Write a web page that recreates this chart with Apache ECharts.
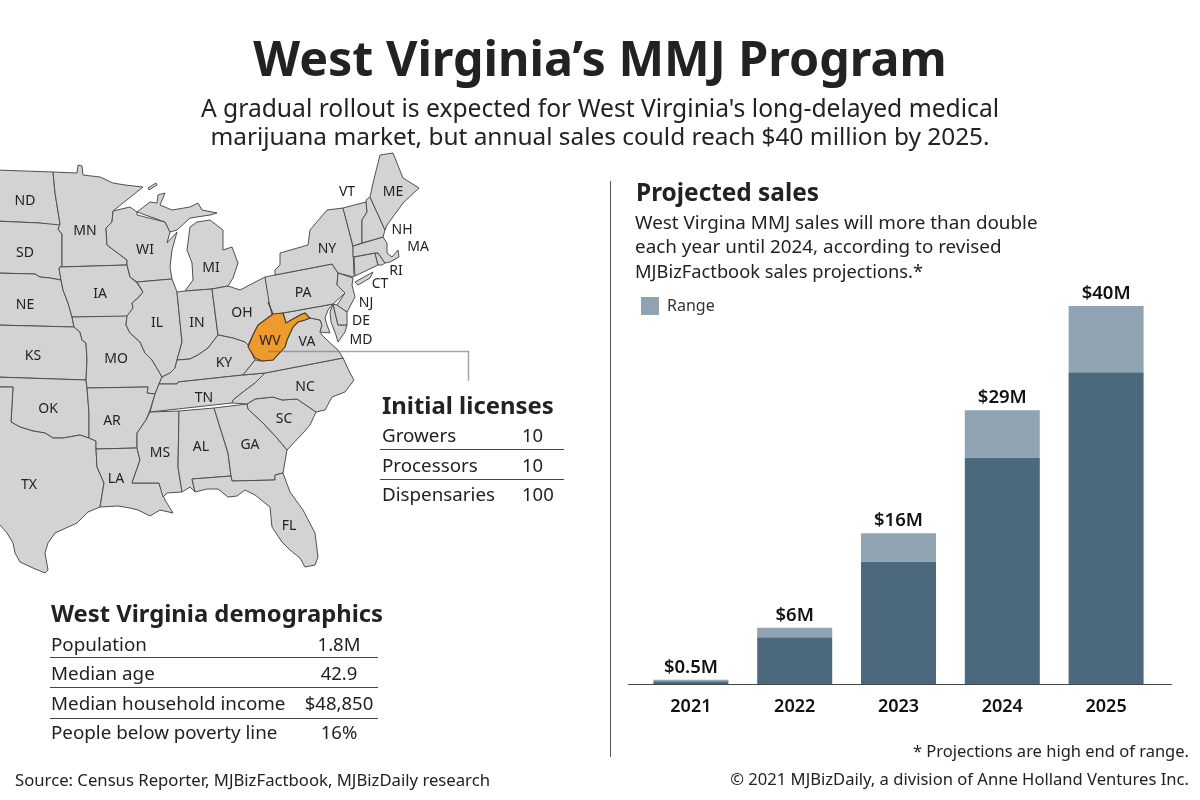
<!DOCTYPE html>
<html>
<head>
<meta charset="utf-8">
<title>West Virginia's MMJ Program</title>
<script src="https://cdn.jsdelivr.net/npm/echarts@6/dist/echarts.min.js"></script>
<style>
  html, body { margin: 0; padding: 0; background: #fff; }
  #chart { width: 1200px; height: 800px; }
</style>
</head>
<body>
<div id="chart"></div>
<script>
// Bar chart data ($ millions)
var years = ['2021', '2022', '2023', '2024', '2025'];
var lowEnd = [0.35, 5, 13, 24, 33];
var rangeOnTop = [0.15, 1, 3, 5, 7];
var highLabels = ['$0.5M', '$6M', '$16M', '$29M', '$40M'];

// Tables
var licenseRows = [['Growers', '10'], ['Processors', '10'], ['Dispensaries', '100']];
var demographicRows = [
  ['Population', '1.8M'],
  ['Median age', '42.9'],
  ['Median household income', '$48,850'],
  ['People below poverty line', '16%']
];

// Map: state outlines, in map units. Rings per state.
var stateCodes = ['ND','SD','NE','KS','OK','TX','MN','IA','MO','AR','LA','WI','IL','MI','IN','OH','KY','TN','MS','AL','GA','FL','SC','NC','VA','MD','DE','PA','NY','NJ','CT','RI','MA','VT','NH','ME','WV'];
var stateOutlines = [
  [[[-5,170],[53,172],[55,193],[60,224],[58,229],[40,223],[-5,221]]],
  [[[-5,221],[40,223],[60,225],[58,229],[62,234],[62,267],[59,268],[61,280],[50,278],[40,277],[35,274],[-5,273]]],
  [[[-5,273],[35,274],[40,277],[50,278],[61,280],[63,290],[68,303],[72,317],[74,327],[-5,325]]],
  [[[-5,325],[74,327],[80,332],[82,340],[86,343],[87,360],[86,380],[-5,377]]],
  [[[-5,377],[86,380],[87,388],[89,413],[89,438],[80,435],[63,438],[53,438],[45,433],[33,431],[20,427],[11,422],[13,387],[-5,387]]],
  [[[-5,387],[13,387],[11,422],[20,427],[33,431],[45,433],[53,438],[63,438],[80,435],[89,438],[96,441],[96,449],[97,467],[104,483],[100,507],[88,512],[77,523],[55,533],[48,543],[45,553],[48,570],[45,573],[33,568],[20,562],[15,553],[13,543],[7,533],[0,525],[-5,520]]],
  [[[53,172],[77,173],[78,165],[82,166],[83,175],[100,177],[113,183],[125,185],[143,187],[133,195],[123,203],[113,211],[112,222],[106,228],[107,245],[115,251],[127,260],[127,265],[60,267],[62,267],[62,234],[58,229],[60,224],[55,193]]],
  [[[60,267],[127,265],[130,277],[137,283],[143,292],[138,298],[132,303],[133,308],[127,317],[72,317],[68,303],[63,290],[61,280],[59,268]]],
  [[[72,317],[127,316],[126,325],[130,333],[140,342],[145,353],[152,360],[158,370],[162,377],[159,384],[155,394],[147,393],[148,387],[87,388],[86,380],[87,360],[86,343],[82,340],[80,332],[74,327]]],
  [[[87,388],[148,387],[147,393],[155,394],[150,410],[146,420],[137,433],[137,448],[96,449],[96,441],[89,438],[89,413]]],
  [[[96,449],[137,448],[140,460],[132,483],[159,483],[163,495],[165,500],[173,513],[160,510],[150,516],[138,510],[130,508],[118,506],[100,507],[104,483],[97,467]]],
  [[[113,211],[130,207],[137,212],[137,215],[165,222],[170,232],[167,243],[177,232],[172,250],[170,267],[172,279],[137,282],[130,277],[127,265],[127,260],[115,251],[107,245],[106,228],[112,222]]],
  [[[137,282],[172,279],[177,292],[182,342],[177,360],[175,368],[170,373],[162,377],[158,370],[152,360],[145,353],[140,342],[130,333],[126,325],[127,316],[133,308],[132,303],[138,298],[143,292]]],
  [[[185,291],[193,280],[192,263],[187,250],[190,227],[197,222],[210,220],[223,230],[223,250],[232,247],[238,263],[233,278],[228,286],[212,289]],
   [[137,212],[150,202],[157,203],[158,195],[165,193],[160,205],[172,210],[190,207],[198,203],[202,210],[217,213],[210,215],[190,218],[177,230],[170,232],[165,222]],
   [[148,188],[156,183],[157,185],[149,190]]],
  [[[177,292],[185,291],[212,289],[218,335],[208,348],[198,355],[190,359],[177,360],[182,342]]],
  [[[212,289],[228,286],[240,290],[265,277],[270,302],[273,314],[258,325],[253,335],[248,345],[245,342],[233,338],[218,335]]],
  [[[159,384],[177,384],[178,382],[243,375],[255,360],[248,345],[245,342],[233,338],[218,335],[208,348],[198,355],[190,359],[177,360],[175,368],[170,373],[162,377]]],
  [[[150,412],[232,403],[233,400],[243,392],[255,383],[265,373],[243,375],[178,382],[177,384],[159,384],[155,394]]],
  [[[150,412],[179,411],[178,467],[182,492],[167,493],[163,497],[159,483],[132,483],[140,460],[137,448],[137,433],[146,420]]],
  [[[179,411],[214,408],[228,453],[231,476],[192,479],[195,492],[190,487],[182,492],[178,467]]],
  [[[214,408],[247,404],[248,409],[263,423],[277,438],[287,450],[283,473],[275,475],[275,480],[232,481],[231,476],[228,453]]],
  [[[192,479],[231,476],[232,481],[275,480],[275,475],[283,473],[290,492],[303,510],[315,533],[318,557],[315,565],[305,567],[300,558],[290,550],[282,542],[272,527],[270,507],[255,495],[245,490],[237,496],[228,497],[218,489],[207,489],[195,492]]],
  [[[247,404],[255,399],[273,397],[282,400],[297,399],[316,412],[310,425],[303,433],[287,450],[277,438],[263,423],[248,409]]],
  [[[265,373],[343,358],[350,373],[354,380],[345,392],[332,397],[325,410],[316,412],[297,399],[282,400],[273,397],[255,399],[247,404],[232,403],[233,400],[243,392],[255,383]]],
  [[[243,375],[265,373],[343,358],[338,350],[330,343],[322,335],[320,332],[322,325],[320,320],[310,318],[305,320],[298,322],[293,327],[287,340],[285,347],[273,360],[262,361],[255,360]]],
  [[[272,315],[333,304],[328,310],[325,318],[327,325],[330,333],[320,332],[322,325],[320,320],[310,318],[305,313],[300,315],[286,323],[283,313],[273,314]],
   [[333,304],[338,325],[347,325],[345,332],[338,342],[336,335],[331,322],[330,312]]],
  [[[333,304],[337,305],[347,312],[347,325],[338,325]]],
  [[[265,277],[275,275],[332,264],[338,273],[337,285],[345,293],[333,304],[272,315],[269,302]]],
  [[[275,275],[275,270],[280,265],[280,253],[308,245],[310,230],[327,210],[343,208],[348,227],[353,247],[354,277],[338,273],[332,264]],
   [[355,282],[373,272],[370,278],[358,285]]],
  [[[338,273],[353,278],[352,285],[355,297],[347,312],[337,305],[345,293],[337,285]]],
  [[[354,257],[375,253],[378,265],[355,276]]],
  [[[375,253],[378,253],[385,263],[382,265],[378,265]]],
  [[[353,246],[383,237],[387,243],[387,253],[392,257],[398,250],[399,257],[390,262],[385,263],[378,253],[375,253],[353,257]]],
  [[[343,208],[366,202],[367,212],[362,220],[362,243],[353,246],[348,227]]],
  [[[366,200],[370,197],[385,230],[383,237],[362,243],[362,220],[367,212]]],
  [[[370,197],[373,183],[380,155],[393,153],[403,178],[419,188],[403,203],[398,210],[387,225],[385,230]]],
  [[[268,302],[273,314],[283,313],[286,323],[300,315],[305,313],[310,318],[305,320],[298,322],[293,327],[287,340],[285,347],[273,360],[262,361],[255,358],[248,347],[253,335],[258,325],[273,314]]]
];
var stateLabelPoints = [[25,200],[25,252],[25,304],[33,355],[48,408],[29,484],[85,230],[100,293],[116,358],[112,420],[116,478],[145,249],[157,322],[211,267],[197,322],[242,312],[224,362],[204,397],[160,452],[201,446],[250,444],[289,525],[284,418],[305,386],[307,341],[361,339],[361,320],[303,292],[327,248],[366,302],[380,283],[396,270],[418,246],[347,191],[402,229],[393,191],[270,340]];

var INK = '#222222';
var BODY = '"Noto Sans", sans-serif';

var features = stateCodes.map(function(code, i) {
  return {
    type: 'Feature',
    properties: { name: code, cp: stateLabelPoints[i] },
    geometry: { type: 'MultiPolygon', coordinates: stateOutlines[i].map(function(ring) { return [ring]; }) }
  };
});
echarts.registerMap('eastUS', { type: 'FeatureCollection', features: features });

function text(x, y, str, size, opts) {
  opts = opts || {};
  return {
    type: 'text', x: x, y: y, silent: true, z: 10,
    style: {
      text: str,
      font: (opts.weight || 'normal') + ' ' + size + 'px ' + (opts.family || BODY),
      fill: opts.color || INK,
      align: opts.align || 'left',
      verticalAlign: 'middle'
    }
  };
}
function rule(x1, y1, x2, y2, color, width) {
  return {
    type: 'line', silent: true, z: 9,
    shape: { x1: x1, y1: y1, x2: x2, y2: y2 },
    style: { stroke: color, lineWidth: width || 1 }
  };
}

var graphics = [
  text(600, 62, 'West Virginia\u2019s MMJ Program', 48.4, { weight: 'bold', align: 'center' }),
  text(600, 110, "A gradual rollout is expected for West Virginia's long-delayed medical", 24.65, { align: 'center' }),
  text(600, 138, 'marijuana market, but annual sales could reach $40 million by 2025.', 24.4, { align: 'center' }),
  rule(610.5, 181, 610.5, 757, '#555555', 1),
  text(636, 194, 'Projected sales', 24.4, { weight: 'bold' }),
  text(635, 224, 'West Virgina MMJ sales will more than double', 18.85),
  text(635, 248, 'each year until 2024, according to revised', 18.85),
  text(635, 273, 'MJBizFactbook sales projections.*', 18.3),
  rule(628, 684.5, 1172, 684.5, '#444444', 1),
  text(1189, 752, '* Projections are high end of range.', 16.5, { align: 'right' }),
  text(1189, 780, '\u00a9 2021 MJBizDaily, a division of Anne Holland Ventures Inc.', 16.6, { align: 'right' }),
  text(15, 781, 'Source: Census Reporter, MJBizFactbook, MJBizDaily research', 16.7),
  // leader from WV to the licenses table
  rule(268, 351.5, 468.5, 351.5, 'rgba(120,120,120,0.65)', 1.5),
  rule(468.5, 351, 468.5, 381, 'rgba(120,120,120,0.65)', 1.5),
  text(382, 407, 'Initial licenses', 23.9, { weight: 'bold' }),
  text(51, 615, 'West Virginia demographics', 23.8, { weight: 'bold' })
];

var licenseY = [437, 467, 496];
licenseRows.forEach(function(row, i) {
  graphics.push(text(382, licenseY[i], row[0], 18.8));
  graphics.push(text(522, licenseY[i], row[1], 18.5));
});
[449.5, 479.5].forEach(function(y) { graphics.push(rule(380, y, 564, y, '#444444', 1)); });

var demographicY = [646, 675, 705, 734];
demographicRows.forEach(function(row, i) {
  graphics.push(text(51, demographicY[i], row[0], 18.8));
  graphics.push(text(339, demographicY[i], row[1], 18.5, { align: 'center' }));
});
[657.5, 687.5, 718.5].forEach(function(y) { graphics.push(rule(50, y, 378, y, '#444444', 1)); });

var chart = echarts.init(document.getElementById('chart'));
chart.setOption({
  backgroundColor: '#ffffff',
  animation: false,
  textStyle: { fontFamily: BODY },
  geo: {
    map: 'eastUS',
    projection: { project: function(p) { return p; }, unproject: function(p) { return p; } },
    boundingCoords: [[-5, 150], [425, 580]],
    left: -5, top: 150, width: 430, height: 430,
    silent: true,
    roam: false,
    z: 1,
    label: { show: true, fontSize: 14, color: INK, fontFamily: BODY, offset: [0, 1] },
    itemStyle: { areaColor: '#d3d3d3', borderColor: '#505050', borderWidth: 1 },
    regions: [{ name: 'WV', itemStyle: { areaColor: '#ee9a2c', borderColor: '#4a3a20', borderWidth: 1.1 } }]
  },
  legend: {
    data: ['Range'],
    left: 636, top: 292,
    itemWidth: 18, itemHeight: 18,
    icon: 'rect',
    selectedMode: false,
    textStyle: { fontSize: 16, color: '#333333', fontFamily: BODY, padding: [0, 0, 0, 3] }
  },
  grid: { left: 639, width: 519, top: 150, height: 534.5 },
  xAxis: {
    type: 'category',
    data: years,
    axisLine: { show: false },
    axisTick: { show: false },
    axisLabel: { color: '#111111', fontSize: 18, fontWeight: 600, margin: 13, fontFamily: BODY }
  },
  yAxis: { type: 'value', min: 0, max: 56.5, show: false, splitLine: { show: false } },
  series: [
    {
      name: 'Low end', type: 'bar', stack: 'sales', data: lowEnd, barWidth: 75,
      itemStyle: { color: '#4b687c' }, silent: true
    },
    {
      name: 'Range', type: 'bar', stack: 'sales', data: rangeOnTop, barWidth: 75,
      itemStyle: { color: '#90a3b2' }, silent: true,
      label: {
        show: true, position: 'top', distance: 3,
        fontSize: 18.5, fontWeight: 600, color: '#111111', fontFamily: BODY,
        formatter: function(p) { return highLabels[p.dataIndex]; }
      }
    }
  ],
  graphic: graphics
});
</script>
</body>
</html>
